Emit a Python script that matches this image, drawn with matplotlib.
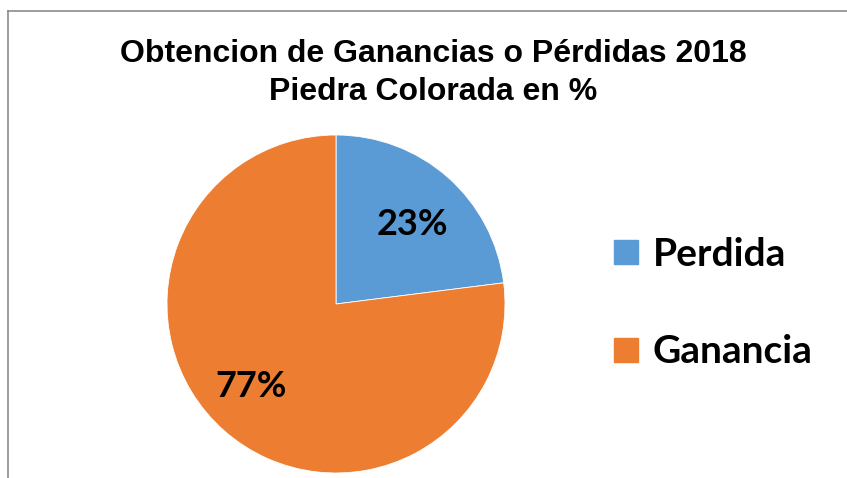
import matplotlib.pyplot as plt
from matplotlib.lines import Line2D

W, H = 847, 478

labels = ["Perdida", "Ganancia"]
values = [23, 77]
colors = ["#5B9BD5", "#ED7D31"]
title_lines = ["Obtencion de Ganancias o Pérdidas 2018", "Piedra Colorada en %"]

fig = plt.figure(figsize=(W / 100, H / 100), dpi=100)

# chart border (top and left edge visible)
fig.add_artist(Line2D([8 / W, 8 / W], [0, 1 - 11 / H], color="#8c8c8c", lw=1.2))
fig.add_artist(Line2D([8 / W, 1], [1 - 11 / H, 1 - 11 / H], color="#8c8c8c", lw=1.2))

# title
fig.text(433 / W, 1 - 62 / H, title_lines[0], ha="center", va="baseline",
         fontsize=23, fontweight="bold", family="Liberation Sans")
fig.text(433 / W, 1 - 100 / H, title_lines[1], ha="center", va="baseline",
         fontsize=23, fontweight="bold", family="Liberation Sans")

# pie
cx, cy, r = 336, 304, 169
ax = fig.add_axes([(cx - r) / W, (H - cy - r) / H, 2 * r / W, 2 * r / H])
wedges, texts, autotexts = ax.pie(
    values, colors=colors, startangle=90, counterclock=False,
    autopct="%1.0f%%", pctdistance=0.68,
    wedgeprops=dict(edgecolor="white", linewidth=0.6),
    textprops=dict(fontsize=26, fontweight="bold", family="Lato", color="black"))
# small nudges so the labels sit where the original puts them
x, y = autotexts[0].get_position()
autotexts[0].set_position((x, y - 0.04))
x, y = autotexts[1].get_position()
autotexts[1].set_position((x - 0.05, y + 0.02))
ax.set_xlim(-1, 1)
ax.set_ylim(-1, 1)
ax.set_aspect("equal")

# legend
handles = [Line2D([], [], marker="s", ls="", markersize=17, color=c) for c in colors]
fig.legend(handles, labels, loc="center left", bbox_to_anchor=(573 / W, 1 - 303 / H),
           frameon=False, prop=dict(family="Lato", weight="bold", size=28),
           handletextpad=0.25, labelspacing=1.6, handlelength=0.9)

fig.savefig("out.png", dpi=100)
